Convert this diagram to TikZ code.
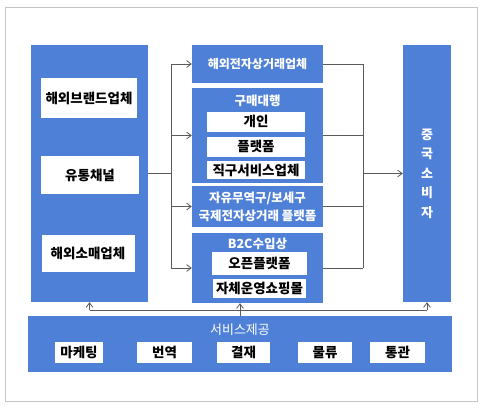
\documentclass[tikz,border=0pt]{standalone}
\usepackage{fontspec}
\setmainfont{Noto Sans CJK KR}
\usepackage{tikz}
\usetikzlibrary{arrows.meta,positioning}
\definecolor{mainblue}{HTML}{4F80D8}
\definecolor{linegray}{HTML}{5A5A5A}
\definecolor{framegray}{HTML}{C4C4C4}

\begin{document}
\begin{tikzpicture}[x=1pt,y=-1pt,
  bluebox/.style={fill=mainblue,inner sep=0pt,text=white,
                  font=\bfseries\fontsize{12}{14}\selectfont},
  whitebox/.style={fill=white,inner sep=0pt,
                   font=\bfseries\fontsize{13.5}{15}\selectfont},
  title/.style={text=white,inner sep=0pt,font=\bfseries\fontsize{12.5}{14}\selectfont},
  link/.style={draw=linegray,line width=0.8pt},
  arrow/.style={link,-{Straight Barb[length=1.6mm,width=2.4mm]}}
]
  \useasboundingbox (0,0) rectangle (485,408);
  \draw[framegray,line width=0.8pt] (5,7) rectangle (477,401);

  % supplier side
  \node[bluebox,minimum width=117pt,minimum height=257pt] (supplier) at (89.5,173.5) {};
  \node[whitebox,minimum width=96pt,minimum height=40pt] (brand) at (89,98) {해외브랜드업체};
  \node[whitebox,minimum width=98pt,minimum height=38pt] (channel) at (90,175) {유통채널};
  \node[whitebox,minimum width=93pt,minimum height=37pt] (retail) at (88,253.5) {해외소매업체};

  % middle column
  \node[bluebox,minimum width=131pt,minimum height=38pt] (ecom) at (257.5,64) {해외전자상거래업체};
  \node[bluebox,minimum width=131pt,minimum height=95pt] (agent) at (257.5,135.5) {};
  \node[title] (agenttitle) at (257.5,101) {구매대행};
  \node[whitebox,minimum width=98pt,minimum height=20pt] (person) at (256,121.5) {개인};
  \node[whitebox,minimum width=98pt,minimum height=20pt,below=5pt of person] (platform) {플랫폼};
  \node[whitebox,minimum width=98pt,minimum height=18pt,below=4pt of platform] (directbuy) {직구서비스업체};
  \node[bluebox,minimum width=131pt,minimum height=41pt,align=center,
        font=\bfseries\fontsize{12.5}{18}\selectfont] (ftz) at (257.5,206.5) {자유무역구/보세구\\국제전자상거래 플랫폼};
  \node[bluebox,minimum width=131pt,minimum height=70pt] (b2c) at (257.5,268) {};
  \node[title] (b2ctitle) at (257.5,243.5) {B2C수입상};
  \node[whitebox,minimum width=95pt,minimum height=23pt] (open) at (259.5,263.5) {오픈플랫폼};
  \node[whitebox,minimum width=93pt,minimum height=19pt,below=4pt of open] (mall) {자체운영쇼핑몰};

  % consumer side
  \node[bluebox,minimum width=48pt,minimum height=257pt,align=center,
        font=\bfseries\fontsize{13}{19.5}\selectfont] (consumer) at (427,173.5) {중\\국\\소\\비\\자};

  % services
  \node[bluebox,minimum width=424pt,minimum height=56pt] (service) at (240,344) {};
  \node[title,font=\fontsize{13}{15}\selectfont] (servicetitle) at (240,330) {서비스제공};
  \foreach \x/\w/\name/\txt in {79/48/marketing/마케팅,164.5/55/translate/번역,
      243.5/53/payment/결재,325/54/logistics/물류,397.5/55/customs/통관}
    \node[whitebox,minimum width=\w pt,minimum height=21pt] (\name) at (\x,352.5) {\txt};

  \coordinate (split) at (171,173.5);
  \coordinate (merge) at (363,173.5);
  \coordinate (bus) at (240,310);

  \draw[link] (supplier.east) -- (split);
  \draw[link] (split |- ecom.west) -- (split |- b2c.west);
  \foreach \n in {ecom,agent,ftz,b2c}
    \draw[arrow] (split |- \n.west) -- (\n.west);
  \foreach \n in {ecom,agent,ftz,b2c}
    \draw[link] (\n.east) -- (merge |- \n.east);
  \draw[link] (merge |- ecom.east) -- (merge |- b2c.east);
  \draw[arrow] (merge) -- (consumer.west);

  \draw[link] (supplier.south |- bus) -- (consumer.south |- bus);
  \draw[arrow] (supplier.south |- bus) -- (supplier.south);
  \draw[arrow] (consumer.south |- bus) -- (consumer.south);
  \draw[arrow] (service.north) -- (service.north |- b2c.south);
\end{tikzpicture}
\end{document}
